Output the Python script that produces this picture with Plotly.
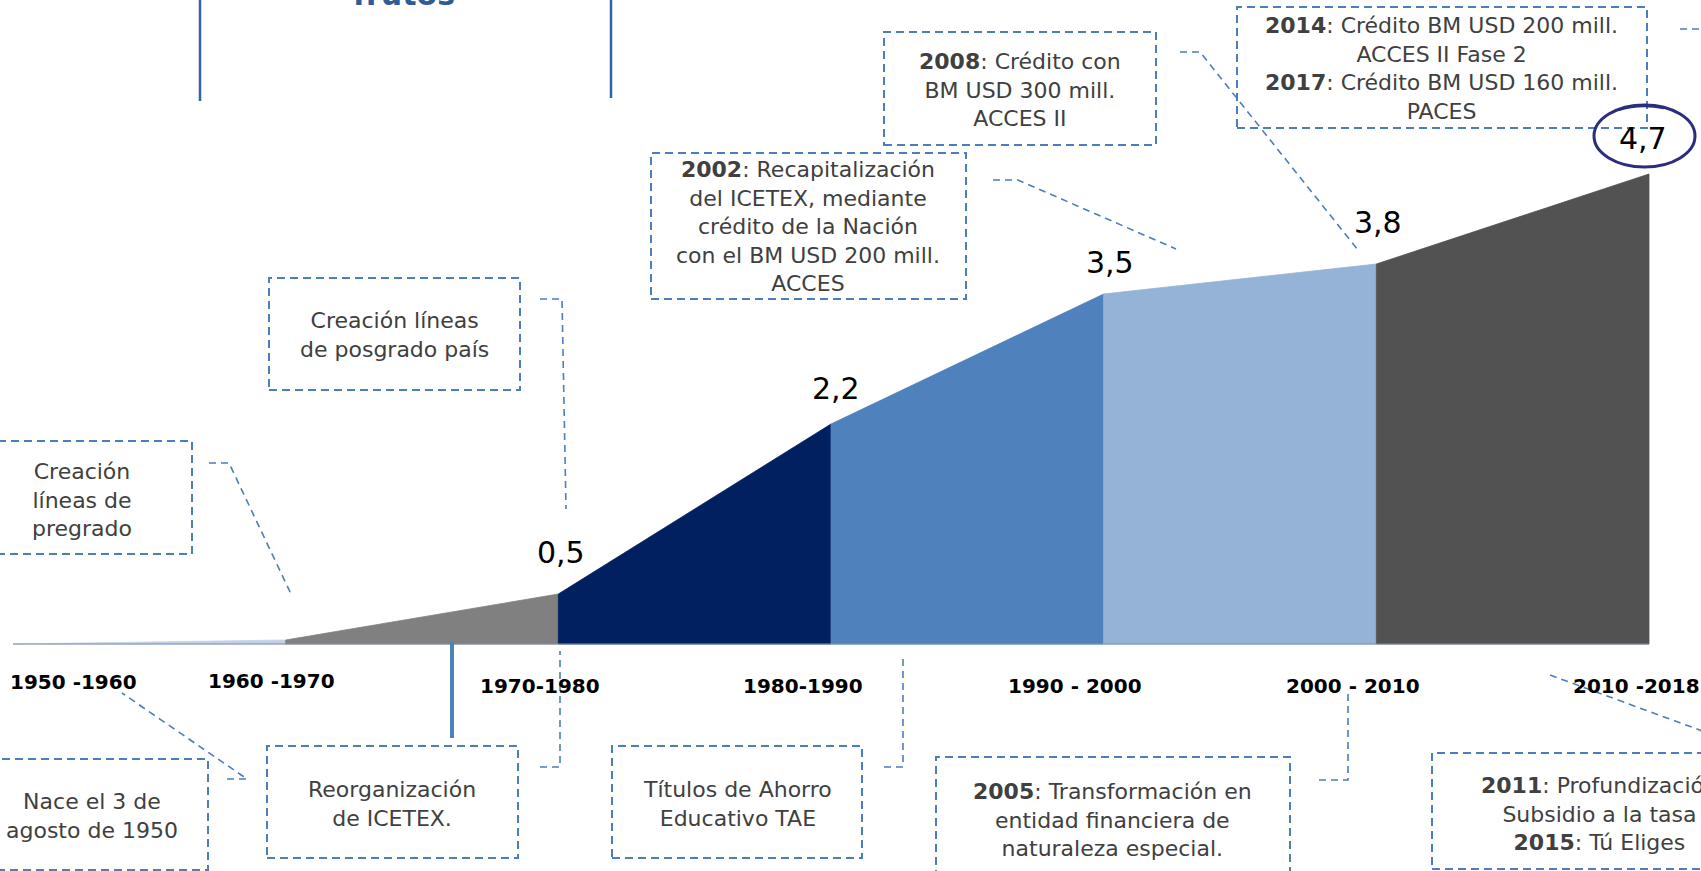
import plotly.graph_objects as go

# ---------------- data ----------------
periods = ["1950 -1960", "1960 -1970", "1970-1980", "1980-1990",
           "1990 - 2000", "2000 - 2010", "2010 -2018"]
points = [0, 1, 2, 3, 4, 5, 6]                  # timeline milestones (1950 ... 2018)
values = [0.0, 0.04, 0.5, 2.2, 3.5, 3.8, 4.7]   # value at each milestone
labeled_points = [2, 3, 4, 5, 6]                 # milestones with a value label

title_text = "frutos"

box_texts = [
    "Creación<br>líneas de<br>pregrado",
    "Creación líneas<br>de posgrado país",
    "<b>2002</b>: Recapitalización<br>del ICETEX, mediante<br>crédito de la Nación<br>con el BM USD 200 mill.<br>ACCES",
    "<b>2008</b>: Crédito con<br>BM USD 300 mill.<br>ACCES II",
    "<b>2014</b>: Crédito BM USD 200 mill.<br>ACCES II Fase 2<br><b>2017</b>: Crédito BM USD 160 mill.<br>PACES",
    "Nace el 3 de<br>agosto de 1950",
    "Reorganización<br>de ICETEX.",
    "Títulos de Ahorro<br>Educativo TAE",
    "<b>2005</b>: Transformación en<br>entidad financiera de<br>naturaleza especial.",
    "<b>2011</b>: Profundización<br>Subsidio a la tasa<br><b>2015</b>: Tú Eliges",
]

# ---------------- layout / style ----------------
W, H = 1701, 871
def px(x): return x / W
def py(y): return 1 - y / H

seg_colors = ["#C3D1E8", "#808080", "#002060", "#4F81BD", "#95B3D7", "#525252"]
DASH_COL = "#4A7EBF"
FONT = "DejaVu Sans"

fig = go.Figure()

# area segments
for i in range(len(points) - 1):
    xs = [points[i], points[i + 1], points[i + 1], points[i], points[i]]
    ys = [values[i], values[i + 1], 0, 0, values[i]]
    fig.add_trace(go.Scatter(x=xs, y=ys, mode="lines", fill="toself",
                             fillcolor=seg_colors[i],
                             line=dict(color=seg_colors[i], width=0.8),
                             hoverinfo="skip", showlegend=False))
# baseline
fig.add_trace(go.Scatter(x=[points[0], points[-1]], y=[0, 0], mode="lines",
                         line=dict(color="#7F8FA8", width=1.2),
                         hoverinfo="skip", showlegend=False))

# x: index 0 -> 13px, index 6 -> 1649px ; y: 0 -> 644px, 100px per unit
ppu_x = (1649 - 13) / 6
x0 = -13 / ppu_x
x1 = x0 + W / ppu_x
ppu_y = 100.0
y_lo = -(H - 644) / ppu_y
y_hi = 644 / ppu_y

annotations = []

# value labels
val_shift = {2: (3, 22), 3: (5, 16), 4: (6, 12), 5: (2, 22), 6: (-6, 16)}
for i in labeled_points:
    dx, dy = val_shift[i]
    annotations.append(dict(
        x=points[i], y=values[i], xref="x", yref="y",
        text=f"{values[i]:.1f}".replace(".", ","),
        showarrow=False, xanchor="center", yanchor="bottom",
        xshift=dx, yshift=dy,
        font=dict(family=FONT, size=30, color="#000000")))

# period labels
period_pos = [(73, 682), (271, 681), (540, 686), (803, 686),
              (1075, 686), (1353, 686), (1636, 686)]
for txt, (cx, cy) in zip(periods, period_pos):
    annotations.append(dict(
        x=px(cx), y=py(cy), xref="paper", yref="paper", text=f"<b>{txt}</b>",
        showarrow=False, xanchor="center", yanchor="middle",
        font=dict(family=FONT, size=20, color="#000000")))

# box texts
text_pos = [(82, 500), (394, 335), (808, 227), (1020, 90), (1441, 68),
            (92, 816), (392, 804), (737, 804), (1112, 820), (1599, 814)]
for txt, (cx, cy) in zip(box_texts, text_pos):
    annotations.append(dict(
        x=px(cx), y=py(cy), xref="paper", yref="paper", text=txt,
        showarrow=False, xanchor="center", yanchor="middle", align="center",
        font=dict(family=FONT, size=22, color="#404040")))

# title fragment at top
annotations.append(dict(
    x=px(404), y=py(14), xref="paper", yref="paper", text=f"<b>{title_text}</b>",
    showarrow=False, xanchor="center", yanchor="bottom",
    font=dict(family=FONT, size=30, color="#2E5C98")))

shapes = []
boxes = [(-3, 441, 192, 554), (269, 278, 520, 390), (651, 153, 966, 299),
         (884, 32, 1156, 145), (1237, 7, 1647, 128), (-3, 759, 208, 870),
         (267, 746, 518, 858), (612, 746, 862, 858), (936, 757, 1290, 885),
         (1432, 753, 1712, 869)]
for (bx0, by0, bx1, by1) in boxes:
    shapes.append(dict(type="rect", xref="paper", yref="paper",
                       x0=px(bx0), x1=px(bx1), y0=py(by1), y1=py(by0),
                       line=dict(color=DASH_COL, width=2, dash="8px,5px"),
                       fillcolor="rgba(0,0,0,0)"))

leaders = [
    [(209, 463), (229, 463), (291, 594)],
    [(540, 299), (562, 299), (566, 509)],
    [(993, 180), (1018, 180), (1176, 249)],
    [(1180, 52), (1200, 52), (1358, 250)],
    [(1680, 29), (1705, 29)],
    [(227, 779), (247, 779), (122, 693)],
    [(540, 767), (560, 767), (560, 651)],
    [(884, 767), (903, 767), (903, 659)],
    [(1319, 780), (1348, 780), (1348, 693)],
    [(1550, 675), (1705, 732)],
]
for pts in leaders:
    path = "M " + " L ".join(f"{px(a):.5f},{py(b):.5f}" for a, b in pts)
    shapes.append(dict(type="path", xref="paper", yref="paper", path=path,
                       line=dict(color=DASH_COL, width=1.6, dash="7px,5px")))

# solid connector
shapes.append(dict(type="line", xref="paper", yref="paper",
                   x0=px(452), x1=px(452), y0=py(642), y1=py(738),
                   line=dict(color="#4F81BD", width=4)))
# title frame lines
shapes.append(dict(type="line", xref="paper", yref="paper",
                   x0=px(200), x1=px(200), y0=py(-5), y1=py(101),
                   line=dict(color="#2E64A6", width=2.5)))
shapes.append(dict(type="line", xref="paper", yref="paper",
                   x0=px(611), x1=px(611), y0=py(-5), y1=py(98),
                   line=dict(color="#2E64A6", width=2.5)))
# hand-drawn circle around the last value
shapes.append(dict(type="circle", xref="paper", yref="paper",
                   x0=px(1594), x1=px(1695), y0=py(167), y1=py(105),
                   line=dict(color="#2B2D7E", width=3)))
shapes.append(dict(type="path", xref="paper", yref="paper",
                   path=f"M {px(1618)},{py(110)} Q {px(1640)},{py(103)} {px(1664)},{py(108)}",
                   line=dict(color="#2B2D7E", width=2.5)))

fig.update_layout(
    width=W, height=H, autosize=False,
    margin=dict(l=0, r=0, t=0, b=0),
    paper_bgcolor="white", plot_bgcolor="white",
    xaxis=dict(range=[x0, x1], visible=False, showgrid=False, zeroline=False, fixedrange=True),
    yaxis=dict(range=[y_lo, y_hi], visible=False, showgrid=False, zeroline=False, fixedrange=True),
    annotations=annotations, shapes=shapes, showlegend=False,
)

fig.write_html("out.html", config={"displayModeBar": False},
               post_script="document.body.style.margin='0';document.body.style.overflow='hidden';")
